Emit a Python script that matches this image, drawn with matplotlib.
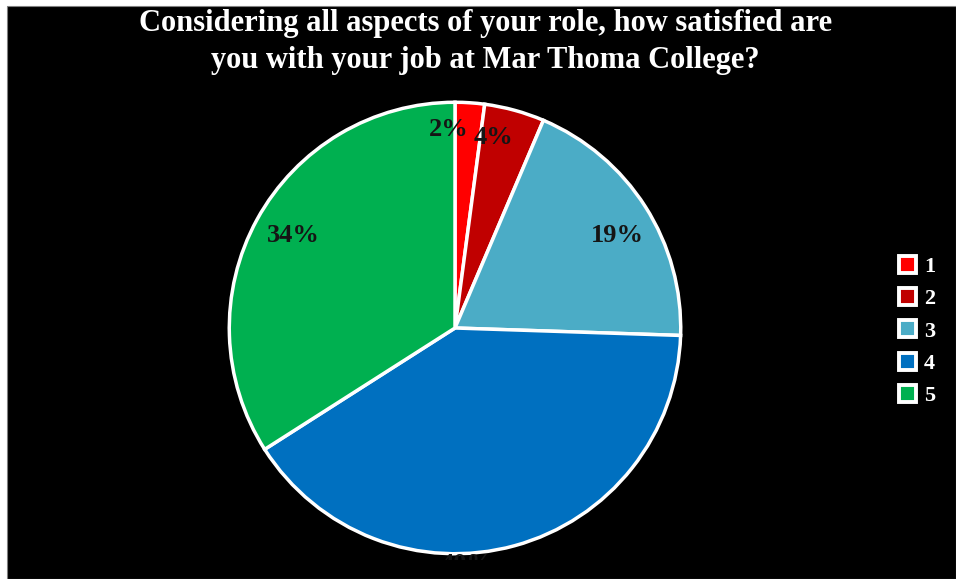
import matplotlib
matplotlib.use("Agg")
import matplotlib.pyplot as plt
from matplotlib.patches import Rectangle, Patch
from matplotlib.transforms import Bbox, TransformedBbox
import numpy as np

# ---- data ----
title = "Considering all aspects of your role, how satisfied are\nyou with your job at Mar Thoma College?"
categories = ["1", "2", "3", "4", "5"]
shares = [2.1, 4.3, 19.1, 40.4, 34.0]       # percent of respondents
labels = ["2%", "4%", "19%", "40%", "34%"]
colors = ["#FF0000", "#C00000", "#4BACC6", "#0070C0", "#00B050"]

# ---- style (label placement like Excel "best fit") ----
label_dist = [0.87, 0.85, 0.82, 1.04, 0.815]
label_shift = [5.5, 4.0, -3.0, -12.5, -1.0]

serif = ["Liberation Serif", "DejaVu Serif"]

fig = plt.figure(figsize=(9.56, 5.79), dpi=100, facecolor="white")
W, H = 956, 579
fig.patches.append(Rectangle((7 / W, 0), 1 - 7 / W, 1 - 6 / H, transform=fig.transFigure,
                             facecolor="black", edgecolor="#808080", linewidth=0.8, zorder=-10))

cx, cy, r = 455, 328, 228
ax = fig.add_axes([(cx - r) / W, (H - cy - r) / H, 2 * r / W, 2 * r / H])
ax.set_facecolor("none")
ax.set_zorder(1)
wedges, _ = ax.pie(shares, colors=colors, startangle=90, counterclock=False,
                   radius=0.99, wedgeprops=dict(edgecolor="white", linewidth=2.5))
ax.set_xlim(-1, 1)
ax.set_ylim(-1, 1)
ax.set_aspect("equal")
ax.axis("off")

clipbox = TransformedBbox(Bbox([[0, (H - 560) / H], [1, 1]]), fig.transFigure)
for w, lab, d, s in zip(wedges, labels, label_dist, label_shift):
    mid = np.deg2rad((w.theta1 + w.theta2) / 2 + s)
    t = ax.text(d * np.cos(mid), d * np.sin(mid), lab, ha="center", va="center",
                fontsize=19, fontweight="bold", family=serif, color="#151515", clip_on=True)
    t.set_clip_box(clipbox)

fig.text(0.508, 1 - 9 / H, title, ha="center", va="top", fontsize=22,
         fontweight="bold", family=serif, color="white", linespacing=1.38, zorder=2)

handles = [Patch(facecolor=c, edgecolor="white", linewidth=2.8) for c in colors]
leg = fig.legend(handles, categories, loc="center left", bbox_to_anchor=(0.940, 1 - 331 / H),
                 frameon=False, borderpad=0, borderaxespad=0, handlelength=0.8, handleheight=0.8,
                 handletextpad=0.35, labelspacing=0.5,
                 prop=dict(family=serif, weight="bold", size=16))
leg.set_zorder(2)
for t in leg.get_texts():
    t.set_color("white")

fig.savefig("out.png", dpi=100, facecolor="white")
